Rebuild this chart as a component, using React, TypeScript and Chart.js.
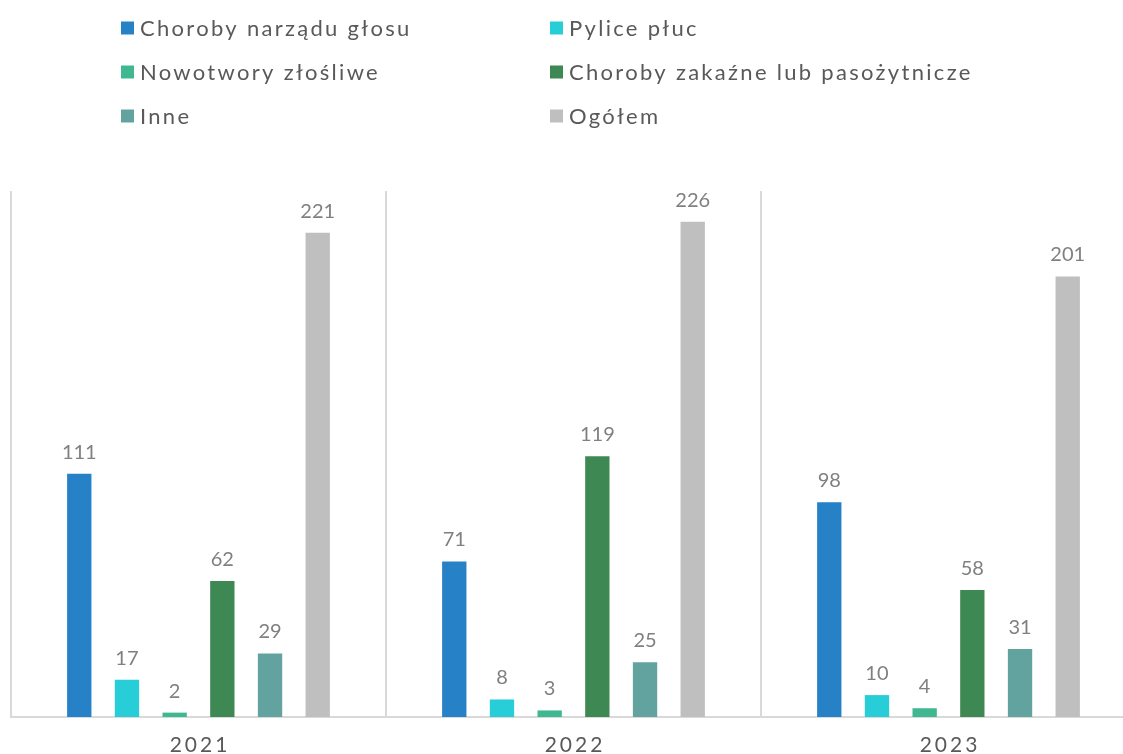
import React, { useEffect, useRef } from "react";
import { Chart, registerables } from "chart.js";

Chart.register(...registerables);

const categories = ["2021", "2022", "2023"];
const seriesLabels = [
  "Choroby narządu głosu",
  "Pylice płuc",
  "Nowotwory złośliwe",
  "Choroby zakaźne lub pasożytnicze",
  "Inne",
  "Ogółem",
];
const chorobyGlosu = [111, 71, 98];
const pylice = [17, 8, 10];
const nowotwory = [2, 3, 4];
const zakazne = [62, 119, 58];
const inne = [29, 25, 31];
const ogolem = [221, 226, 201];
const colors = ["#2781C7", "#27CED7", "#3FB891", "#3E8853", "#62A39F", "#BFBFBF"];

const FONT = "Lato, 'Open Sans', sans-serif";

const legendPlugin = {
  id: "gridLegend",
  afterDraw(chart: any) {
    const ctx = chart.ctx;
    ctx.save();
    const cols = [121, 550];
    const rows = [28, 72, 116];
    chart.data.datasets.forEach((ds: any, i: number) => {
      const x = cols[i % 2];
      const y = rows[Math.floor(i / 2)];
      ctx.fillStyle = ds.backgroundColor;
      ctx.fillRect(x, y - 6.5, 13, 13);
      ctx.fillStyle = "#595959";
      ctx.font = `22px ${FONT}`;
      (ctx as any).letterSpacing = "2.3px";
      ctx.textBaseline = "middle";
      ctx.textAlign = "left";
      ctx.fillText(ds.label, x + 19, y + 1);
    });
    ctx.restore();
  },
};

const labelsPlugin = {
  id: "valueLabels",
  afterDatasetsDraw(chart: any) {
    const ctx = chart.ctx;
    ctx.save();
    ctx.font = `20px ${FONT}`;
    ctx.fillStyle = "#808080";
    ctx.textAlign = "center";
    ctx.textBaseline = "alphabetic";
    chart.data.datasets.forEach((ds: any, i: number) => {
      const meta = chart.getDatasetMeta(i);
      meta.data.forEach((bar: any, j: number) => {
        ctx.fillText(String(ds.data[j]), bar.x, bar.y - 15);
      });
    });
    // category labels
    const xs = chart.scales.x;
    ctx.font = `21px ${FONT}`;
    ctx.fillStyle = "#595959";
    (ctx as any).letterSpacing = "3px";
    ctx.textBaseline = "middle";
    chart.data.labels.forEach((lab: string, j: number) => {
      ctx.fillText(lab, xs.getPixelForValue(j) + 1.5, 745);
    });
    ctx.restore();
  },
};

export default function App() {
  const ref = useRef<HTMLCanvasElement>(null);
  useEffect(() => {
    if (!ref.current) return;
    const chart = new Chart(ref.current, {
      type: "bar",
      data: {
        labels: categories,
        datasets: [chorobyGlosu, pylice, nowotwory, zakazne, inne, ogolem].map((d, i) => ({
          label: seriesLabels[i],
          data: d,
          backgroundColor: colors[i],
          barPercentage: 0.51,
          categoryPercentage: 0.763,
        })),
      },
      options: {
        animation: false,
        responsive: false,
        layout: { padding: { left: 11, right: 4, top: 191, bottom: 37 } },
        plugins: { legend: { display: false }, tooltip: { enabled: false } },
        scales: {
          x: {
            grid: { display: true, offset: true, color: "#D9D9D9", lineWidth: 2, drawTicks: false },
            border: { display: true, color: "#D9D9D9", width: 2 },
            ticks: { display: false },
          },
          y: {
            display: false,
            min: 0,
            max: 240,
          },
        },
      },
      plugins: [legendPlugin, labelsPlugin],
    });
    return () => chart.destroy();
  }, []);
  return (
    <div style={{ position: "fixed", left: 0, top: 0, width: 1123, height: 754, overflow: "hidden", background: "#fff" }}>
      <canvas ref={ref} width={1140} height={754} style={{ display: "block" }} />
    </div>
  );
}
